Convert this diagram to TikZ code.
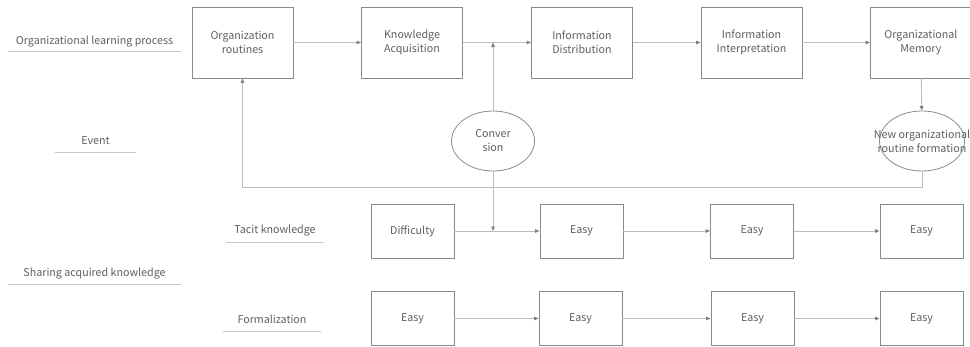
\documentclass[tikz,border=0pt]{standalone}
\usepackage{fontspec}
\setmainfont{Noto Sans CJK JP}
\usetikzlibrary{arrows.meta,shapes.geometric}
\definecolor{txtc}{HTML}{5E5E5E}
\definecolor{boxc}{HTML}{8A8A8A}
\definecolor{linec}{HTML}{BDBDBD}
\definecolor{tipc}{HTML}{7F7F7F}
\definecolor{ulc}{HTML}{C8C8C8}
\begin{document}
\begin{tikzpicture}[x=1pt,y=-1pt,
  font=\fontsize{10.7}{14}\selectfont, text=txtc,
  box/.style={draw=boxc, line width=0.9pt, align=center, inner sep=0pt},
  topbox/.style={box, minimum width=101pt, minimum height=71pt},
  lowbox/.style={box, minimum width=83pt, minimum height=54pt},
  oval/.style={ellipse, draw=boxc, line width=0.8pt, inner sep=0pt},
  txt/.style={align=center, inner sep=0pt},
  conn/.style={draw=linec, line width=0.9pt, -{Triangle[length=4.5pt,width=3.6pt,color=tipc]}},
  uline/.style={draw=ulc, line width=0.9pt},
  lab/.style={align=center, inner sep=0pt}
]
\useasboundingbox (0,0) rectangle (970,346);

% top row
\node[topbox] (or) at (242.5,42.5) {Organization\\routines};
\node[topbox] (ka) at (412,42.5) {Knowledge\\Acquisition};
\node[topbox] (id) at (582,42.5) {Information\\Distribution};
\node[topbox] (ii) at (751.5,42.5) {Information\\Interpretation};
\node[topbox] (om) at (921,42.5) {Organizational\\Memory};

% ellipses
\node[oval, minimum width=83pt, minimum height=60pt] (cv) at (493,141) {};
\node[txt] (cvt) at (cv) {Conver\\sion};
\node[oval, minimum width=85pt, minimum height=60pt] (nf) at (922,141) {};
\node[txt] (nft) at (nf) {New organizational\\routine formation};

% tacit row
\node[lowbox] (t1) at (412.5,231) {Difficulty};
\node[lowbox] (t2) at (581.5,231) {Easy};
\node[lowbox] (t3) at (752,231) {Easy};
\node[lowbox] (t4) at (921.5,231) {Easy};

% formalization row
\node[lowbox] (f1) at (412.5,318.5) {Easy};
\node[lowbox] (f2) at (580.5,318.5) {Easy};
\node[lowbox] (f3) at (752.5,318.5) {Easy};
\node[lowbox] (f4) at (921.5,318.5) {Easy};

% left labels
\node[lab, minimum width=173pt] (l1) at (94.5,42) {Organizational learning process};
\draw[uline] ([yshift=-9pt]l1.west) -- ([yshift=-9pt]l1.east);
\node[lab, minimum width=81pt] (l2) at (95.5,141) {Event};
\draw[uline] ([yshift=-11pt]l2.west) -- ([yshift=-11pt]l2.east);
\node[lab, minimum width=98pt] (l3) at (275,231) {Tacit knowledge};
\draw[uline] ([yshift=-11pt]l3.west) -- ([yshift=-11pt]l3.east);
\node[lab, minimum width=173pt] (l4) at (94.5,274) {Sharing acquired knowledge};
\draw[uline] ([yshift=-10pt]l4.west) -- ([yshift=-10pt]l4.east);
\node[lab, minimum width=98pt] (l5) at (272,319) {Formalization};
\draw[uline] ([yshift=-12pt]l5.west) -- ([yshift=-12pt]l5.east);

% top connectors
\draw[conn] (or) -- (ka);
\draw[conn] (ka) -- (id);
\draw[conn] (id) -- (ii);
\draw[conn] (ii) -- (om);
\draw[conn] (om) -- (nf);
\coordinate (j1) at (cv.north |- ka.east);
\draw[conn] (cv) -- (j1);
\draw[conn] (nf.south) -- ++(0,16) -| (or.south);

% tacit connectors
\coordinate (j2) at (cv.south |- t1.east);
\draw[conn] (cv) -- (j2);
\draw[conn] (t1) -- (t2);
\draw[conn] (t2) -- (t3);
\draw[conn] (t3) -- (t4);

% formalization connectors
\draw[conn] (f1) -- (f2);
\draw[conn] (f2) -- (f3);
\draw[conn] (f3) -- (f4);
\end{tikzpicture}
\end{document}
